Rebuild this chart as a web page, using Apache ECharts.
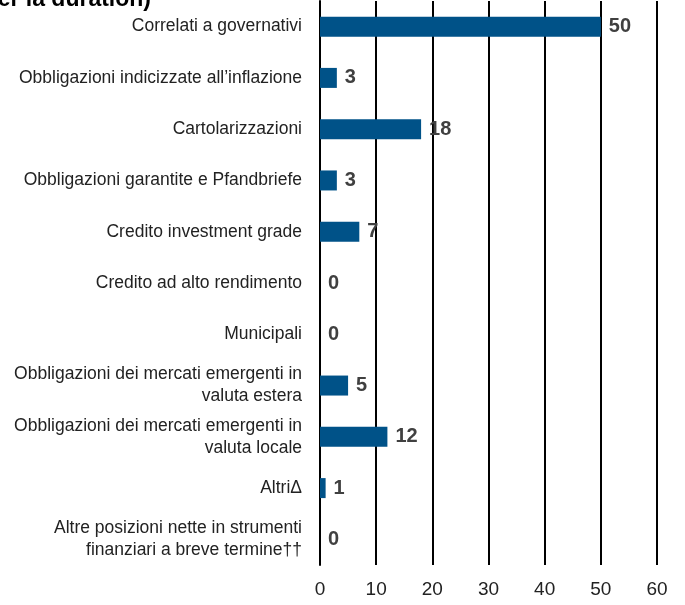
<!DOCTYPE html>
<html><head><meta charset="utf-8">
<script src="https://cdn.jsdelivr.net/npm/echarts@6/dist/echarts.min.js"></script>
<style>html,body{margin:0;padding:0;background:#fff}#c{width:685px;height:605px}</style>
</head><body><div id="c"></div>
<script>
const categories = [
  "Correlati a governativi",
  "Obbligazioni indicizzate all’inflazione",
  "Cartolarizzazioni",
  "Obbligazioni garantite e Pfandbriefe",
  "Credito investment grade",
  "Credito ad alto rendimento",
  "Municipali",
  "Obbligazioni dei mercati emergenti in\nvaluta estera",
  "Obbligazioni dei mercati emergenti in\nvaluta locale",
  "AltriΔ",
  "Altre posizioni nette in strumenti\nfinanziari a breve termine††"
];
const values = [50, 3, 18, 3, 7, 0, 0, 5, 12, 1, 0];
const xTicks = [0, 10, 20, 30, 40, 50, 60];
const titleText = "(% ponderata per la duration)";

const FONT = "'Liberation Sans Narrow', 'Arial Narrow', 'Liberation Sans', sans-serif";
const chart = echarts.init(document.getElementById('c'), null, {renderer: 'canvas'});
chart.setOption({
  animation: false,
  grid: {left: 320, right: 28, top: 1, bottom: 40, containLabel: false},
  graphic: [{
    type: 'text', right: 534, top: -12,
    style: {text: titleText, font: "bold 23px 'Liberation Sans', Arial, sans-serif", fill: '#000', textAlign: 'right'}
  }],
  xAxis: {
    type: 'value', min: xTicks[0], max: xTicks[xTicks.length - 1], interval: 10,
    axisLine: {show: false}, axisTick: {show: false},
    splitLine: {show: true, lineStyle: {color: '#000', width: 2}},
    axisLabel: {fontFamily: FONT, fontSize: 19, color: '#222', margin: 15}
  },
  yAxis: {
    type: 'category', data: categories, inverse: true,
    axisLine: {show: true, lineStyle: {color: '#000', width: 2}},
    axisTick: {show: false},
    axisLabel: {fontFamily: FONT, fontSize: 17.5, color: '#222', margin: 18, lineHeight: 22, align: 'right'}
  },
  series: [{
    type: 'bar', data: values, barWidth: 20,
    itemStyle: {color: '#005288'},
    label: {show: true, position: 'right', distance: 8, fontFamily: FONT, fontWeight: 'bold', fontSize: 20, color: '#404040'}
  }]
});
</script></body></html>
